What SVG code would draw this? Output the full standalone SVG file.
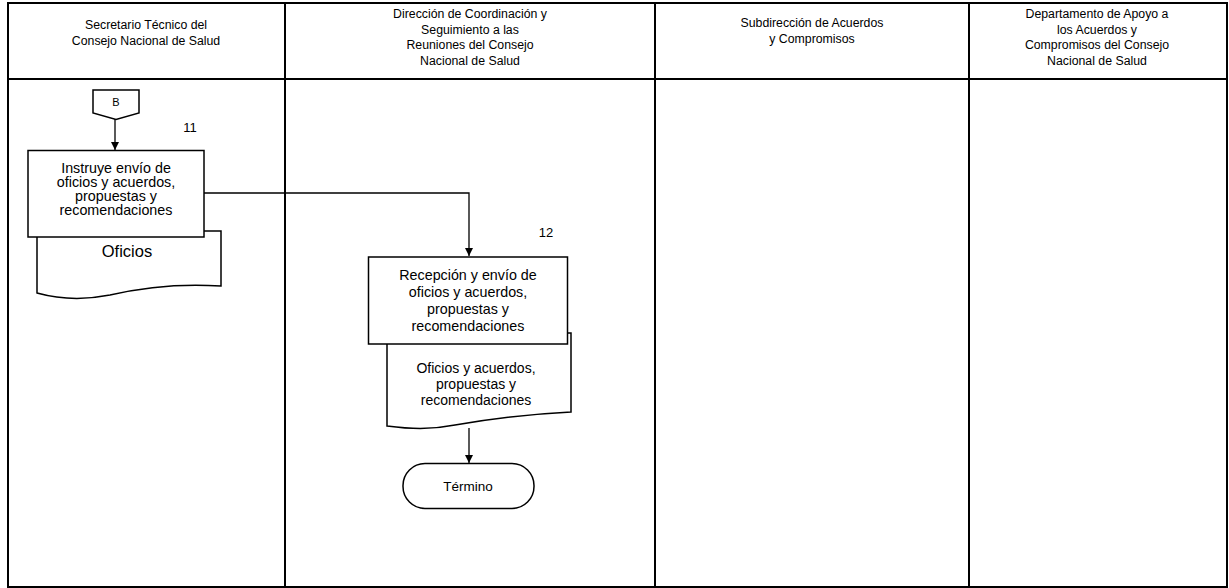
<svg xmlns="http://www.w3.org/2000/svg" width="1229" height="588" viewBox="0 0 1229 588">
<style>
.frame{fill:none;stroke:#000;stroke-width:2}
.shape{fill:#fff;stroke:#000;stroke-width:1.5}
.conn{fill:none;stroke:#000;stroke-width:1.3}
text{font-family:"Liberation Sans",Arial,sans-serif;fill:#000;text-anchor:middle;dominant-baseline:central}
.hdr{font-size:12.3px}
.box{font-size:14.3px}
.doc{font-size:14px}
.num{font-size:13px}
</style>
<defs>
<marker id="arr" markerWidth="10" markerHeight="10" refX="8" refY="5" orient="auto" markerUnits="userSpaceOnUse">
<path d="M0,1 L8,5 L0,9 Z" fill="#000"/>
</marker>
</defs>
<rect width="1229" height="588" fill="#fff"/>
<g id="lanes">
<rect class="frame" x="8" y="3" width="1219" height="584"/>
<line class="frame" x1="8" y1="79" x2="1227" y2="79"/>
<line class="frame" x1="285" y1="3" x2="285" y2="587"/>
<line class="frame" x1="655" y1="3" x2="655" y2="587"/>
<line class="frame" x1="969" y1="3" x2="969" y2="587"/>
<text class="hdr" x="146" y="25">Secretario Técnico del</text>
<text class="hdr" x="146" y="41">Consejo Nacional de Salud</text>
<text class="hdr" x="470" y="14">Dirección de Coordinación y</text>
<text class="hdr" x="470" y="29.5">Seguimiento a las</text>
<text class="hdr" x="470" y="45">Reuniones del Consejo</text>
<text class="hdr" x="470" y="60.5">Nacional de Salud</text>
<text class="hdr" x="812" y="23">Subdirección de Acuerdos</text>
<text class="hdr" x="812" y="39">y Compromisos</text>
<text class="hdr" x="1097" y="14">Departamento de Apoyo a</text>
<text class="hdr" x="1097" y="29.5">los Acuerdos y</text>
<text class="hdr" x="1097" y="45">Compromisos del Consejo</text>
<text class="hdr" x="1097" y="60.5">Nacional de Salud</text>
</g>
<g id="connectors">
<line class="conn" x1="115" y1="119" x2="115" y2="150" marker-end="url(#arr)"/>
<polyline class="conn" points="204,193 469,193 469,256" marker-end="url(#arr)"/>
<line class="conn" x1="469" y1="428" x2="469" y2="463" marker-end="url(#arr)"/>
</g>
<g id="connectorB">
<path class="shape" d="M93,90 L139,90 L139,113 L116,119.5 L93,113 Z"/>
<text class="num" x="116" y="101.5" style="font-size:11px">B</text>
</g>
<g id="doc1">
<path class="shape" d="M37,231 L221,231 L221,286 C175,283 140,288 110,295 C80,301 55,298 37,293 Z"/>
<text x="127" y="251" style="font-size:16.5px">Oficios</text>
</g>
<g id="step11">
<rect class="shape" x="28" y="150.5" width="176" height="86.5"/>
<text class="box" x="116" y="168">Instruye envío de</text>
<text class="box" x="116" y="182">oficios y acuerdos,</text>
<text class="box" x="116" y="196">propuestas y</text>
<text class="box" x="116" y="210">recomendaciones</text>
<text class="num" x="190" y="127">11</text>
</g>
<g id="doc2">
<path class="shape" d="M387,333 L571,333 L571,412 C530,414 490,419 455,425 C430,430 410,429 387,426 Z"/>
<text class="doc" x="476" y="368">Oficios y acuerdos,</text>
<text class="doc" x="476" y="384">propuestas y</text>
<text class="doc" x="476" y="400">recomendaciones</text>
</g>
<g id="step12">
<rect class="shape" x="368.5" y="257" width="199" height="87"/>
<text class="box" x="468" y="275">Recepción y envío de</text>
<text class="box" x="468" y="292">oficios y acuerdos,</text>
<text class="box" x="468" y="309">propuestas y</text>
<text class="box" x="468" y="326">recomendaciones</text>
<text class="num" x="546" y="232">12</text>
</g>
<g id="end">
<rect class="shape" x="403" y="463.5" width="131" height="45" rx="22" ry="22"/>
<text x="468" y="486" style="font-size:13.5px">Término</text>
</g>
</svg>
